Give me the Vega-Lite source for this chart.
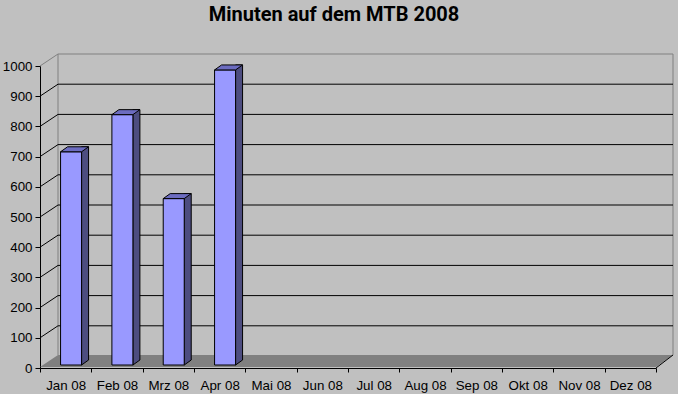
{
  "$schema": "https://vega.github.io/schema/vega-lite/v6.json",
  "width": 616,
  "height": 302,
  "autosize": {"type": "none"},
  "padding": {"left": 40, "top": 66, "right": 22, "bottom": 26},
  "background": "#c0c0c0",
  "datasets": {
    "minuten": [
      {"Monat": "Jan 08", "Minuten": 706},
      {"Monat": "Feb 08", "Minuten": 829},
      {"Monat": "Mrz 08", "Minuten": 551},
      {"Monat": "Apr 08", "Minuten": 977}
    ],
    "gitter": [
      {"Wert": 100}, {"Wert": 200}, {"Wert": 300}, {"Wert": 400}, {"Wert": 500},
      {"Wert": 600}, {"Wert": 700}, {"Wert": 800}, {"Wert": 900}
    ],
    "basis": [{"Wert": 0, "Titel": "Minuten auf dem MTB 2008"}]
  },
  "config": {
    "view": {"stroke": null},
    "axis": {
      "labelFont": "Liberation Sans",
      "labelFontSize": 13.33,
      "labelColor": "#000000",
      "domainColor": "#000000",
      "tickColor": "#000000",
      "grid": false
    },
    "axisX": {"tickBand": "extent", "tickSize": 4, "labelPadding": 6, "labelAngle": 0, "labelOverlap": false},
    "axisY": {"tickCount": 10, "tickSize": 5, "labelPadding": 3, "format": "d"}
  },
  "layer": [
    {
      "data": {"name": "basis"},
      "mark": {"type": "point", "shape": "M-308 -1 L308 -1 L325 -13 L-290 -13 Z", "size": 4, "filled": true, "fill": "#808080", "strokeWidth": 0, "opacity": 1},
      "encoding": {
        "y": {"field": "Wert", "type": "quantitative", "title": null, "scale": {"domain": [0, 1000], "nice": false}}
      }
    },
    {
      "data": {"name": "basis"},
      "mark": {"type": "point", "shape": "M-308 -302 L-290 -314 L325 -314 L325 -13 M-290 -314 L-290 -13", "size": 4, "filled": false, "stroke": "#808080", "strokeWidth": 1, "opacity": 1},
      "encoding": {
        "y": {"field": "Wert", "type": "quantitative", "title": null}
      }
    },
    {
      "data": {"name": "gitter"},
      "mark": {"type": "point", "shape": "M-308 0 L-290 -12 L325 -12", "size": 4, "filled": false, "stroke": "#000000", "strokeWidth": 1, "opacity": 1},
      "encoding": {
        "y": {"field": "Wert", "type": "quantitative", "title": null}
      }
    },
    {
      "data": {"name": "basis"},
      "mark": {"type": "point", "shape": "M308 0 L325 -13", "size": 4, "filled": false, "stroke": "#000000", "strokeWidth": 1, "opacity": 1},
      "encoding": {
        "y": {"field": "Wert", "type": "quantitative", "title": null}
      }
    },
    {
      "data": {"name": "basis"},
      "mark": {"type": "text", "font": "Roboto", "fontSize": 20, "fontWeight": "bold", "color": "#000000", "align": "center", "baseline": "alphabetic", "dx": -14, "yOffset": -347},
      "encoding": {
        "text": {"field": "Titel"},
        "y": {"field": "Wert", "type": "quantitative", "title": null}
      }
    },
    {
      "data": {"name": "minuten"},
      "mark": {"type": "bar", "width": 7, "xOffset": 19.4, "yOffset": -8, "y2Offset": -3, "fill": "#4d4d80", "stroke": "#000000", "strokeWidth": 1},
      "encoding": {
        "x": {
          "field": "Monat", "type": "nominal", "sort": null, "title": null,
          "scale": {"domain": ["Jan 08", "Feb 08", "Mrz 08", "Apr 08", "Mai 08", "Jun 08", "Jul 08", "Aug 08", "Sep 08", "Okt 08", "Nov 08", "Dez 08"], "paddingInner": 0, "paddingOuter": 0}
        },
        "y": {"field": "Minuten", "type": "quantitative", "title": null},
        "y2": {"datum": 0}
      }
    },
    {
      "data": {"name": "minuten"},
      "mark": {"type": "bar", "width": 21, "xOffset": 5.4, "yOffset": -3, "y2Offset": -3, "fill": "#9999ff", "stroke": "#000000", "strokeWidth": 1},
      "encoding": {
        "x": {"field": "Monat", "type": "nominal", "sort": null, "title": null},
        "y": {"field": "Minuten", "type": "quantitative", "title": null},
        "y2": {"datum": 0}
      }
    },
    {
      "data": {"name": "minuten"},
      "mark": {"type": "point", "shape": "M-5.1 0 L15.9 0 L22.9 -5 L1.9 -5 Z", "size": 4, "filled": true, "fill": "#6c6cc0", "stroke": "#000000", "strokeWidth": 1, "opacity": 1, "yOffset": -3},
      "encoding": {
        "x": {"field": "Monat", "type": "nominal", "sort": null, "title": null},
        "y": {"field": "Minuten", "type": "quantitative", "title": null}
      }
    },
    {
      "data": {"name": "minuten"},
      "mark": {"type": "point", "shape": "M15.9 0 L22.9 -5 L24.2 -5 L24.2 1.2 L16.4 1.2 L16.4 0.4 Z", "size": 4, "filled": true, "fill": "#808080", "strokeWidth": 0, "opacity": 1, "yOffset": -3},
      "encoding": {
        "x": {"field": "Monat", "type": "nominal", "sort": null, "title": null},
        "y": {"datum": 0, "type": "quantitative", "title": null}
      }
    },
    {
      "data": {"name": "minuten"},
      "mark": {"type": "point", "shape": "M15.9 0 L22.9 -5", "size": 4, "filled": false, "stroke": "#000000", "strokeWidth": 1, "opacity": 1, "yOffset": -3},
      "encoding": {
        "x": {"field": "Monat", "type": "nominal", "sort": null, "title": null},
        "y": {"datum": 0, "type": "quantitative", "title": null}
      }
    }
  ]
}
